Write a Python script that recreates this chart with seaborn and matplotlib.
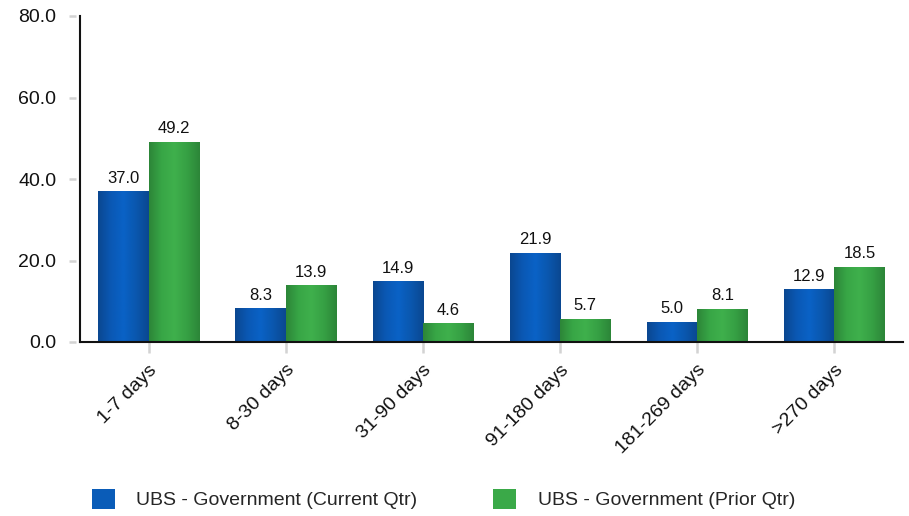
import numpy as np
import pandas as pd
import matplotlib.pyplot as plt
import seaborn as sns
from matplotlib.colors import LinearSegmentedColormap
from matplotlib.patches import Patch
from matplotlib import font_manager

# data
categories = ["1-7 days", "8-30 days", "31-90 days", "91-180 days", "181-269 days", ">270 days"]
current_qtr = [37.0, 8.3, 14.9, 21.9, 5.0, 12.9]
prior_qtr = [49.2, 13.9, 4.6, 5.7, 8.1, 18.5]
series = ["UBS - Government (Current Qtr)", "UBS - Government (Prior Qtr)"]
yticks = [0, 20, 40, 60, 80]

df = pd.DataFrame({
    "category": categories * 2,
    "value": current_qtr + prior_qtr,
    "series": [series[0]] * len(categories) + [series[1]] * len(categories),
})

sns.set_style("white")
names = {f.name for f in font_manager.fontManager.ttflist}
family = "Liberation Sans Narrow" if "Liberation Sans Narrow" in names else "Liberation Sans"
plt.rcParams["font.family"] = [family, "DejaVu Sans"]

base = {series[0]: "#0a5cb8", series[1]: "#3aa948"}
ramps = {
    series[0]: ["#0b4790", "#0a58b4", "#0a62c6", "#0a57ae", "#0b4790"],
    series[1]: ["#2c8538", "#38a646", "#3fb04c", "#36a044", "#2c8538"],
}

fig = plt.figure(figsize=(9.09, 5.16), dpi=100)
ax = fig.add_axes([80 / 909, 1 - 342 / 516, 823 / 909, 326 / 516])

sns.barplot(data=df, x="category", y="value", hue="series", palette=base,
            width=0.735, gap=0, legend=False, ax=ax, saturation=1)

# cylinder-like shading on every bar
grad = np.linspace(0, 1, 256).reshape(1, -1)
n = len(categories)
for i, p in enumerate(ax.patches):
    s = series[0] if i < n else series[1]
    cmap = LinearSegmentedColormap.from_list(s, ramps[s])
    x0, y0 = p.get_x(), p.get_y()
    w, h = p.get_width(), p.get_height()
    im = ax.imshow(grad, cmap=cmap, aspect="auto", extent=[x0, x0 + w, y0, y0 + h],
                   zorder=p.get_zorder() + 0.1, interpolation="bicubic")
    im.set_clip_path(p)

for c in ax.containers:
    ax.bar_label(c, fmt="%.1f", padding=4, fontsize=12, color="#111111")

ax.set_xlim(-0.5, n - 0.5)
ax.set_ylim(0, 80)
ax.set_yticks(yticks)
ax.set_yticklabels([f"{v:.1f}" for v in yticks], fontsize=14)
ax.set_xticks(range(n))
ax.set_xticklabels(categories, rotation=45, ha="right", va="top",
                   rotation_mode="anchor", fontsize=14)
ax.set_xlabel("")
ax.set_ylabel("")

for side in ["top", "right"]:
    ax.spines[side].set_visible(False)
for side in ["left", "bottom"]:
    ax.spines[side].set_color("#111111")
    ax.spines[side].set_linewidth(1.5)

ax.tick_params(axis="x", direction="out", length=8, width=1.8, color="#d3d3d3",
               labelcolor="#111111", bottom=True, pad=6)
ax.tick_params(axis="y", length=0, labelcolor="#111111", left=True, pad=17)

# y tick marks sit a little away from the axis line
ytrans = ax.get_yaxis_transform()
for v in yticks:
    ax.plot([-11 / 823, -4 / 823], [v, v], transform=ytrans, color="#d3d3d3",
            lw=1.8, clip_on=False, solid_capstyle="butt")

handles = [Patch(facecolor=base[s], edgecolor="none", label=s) for s in series]
fig.legend(handles=handles, loc="center left", bbox_to_anchor=(92 / 909, 1 - 499 / 516),
           ncol=2, frameon=False, fontsize=14, handlelength=1.18, handleheight=1.24,
           handletextpad=1.1, columnspacing=3.9, borderpad=0, borderaxespad=0)

fig.savefig("out.png", dpi=100)
